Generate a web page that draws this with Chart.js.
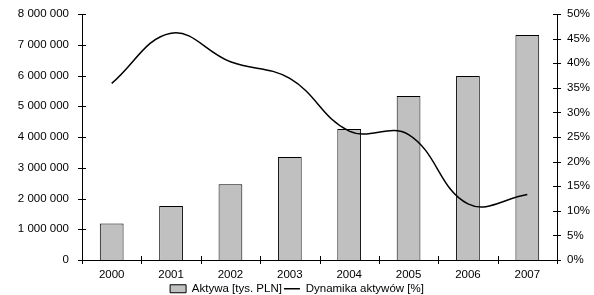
<!DOCTYPE html>
<html>
<head>
<meta charset="utf-8">
<script src="https://cdn.jsdelivr.net/npm/chart.js@4.4.0/dist/chart.umd.min.js"></script>
<style>
  html, body { margin: 0; padding: 0; background: #fff; }
  #wrap { width: 594px; height: 295px; }
</style>
</head>
<body>
<div id="wrap"><canvas id="chart" width="594" height="295"></canvas></div>
<script>
const years = ["2000", "2001", "2002", "2003", "2004", "2005", "2006", "2007"];
const aktywa = [1190000, 1760000, 2460000, 3350000, 4260000, 5330000, 5980000, 7320000];
const dynamika = [35.9, 46.1, 40.3, 36.9, 26.2, 25.5, 11.4, 13.3];
const leftMax = 8000000;
const leftStep = 1000000;
const rightMax = 50;
const rightStep = 5;

const FONT = { family: "'Liberation Sans', Arial, sans-serif", size: 11.5 };

function spaced(n) {
  return String(n).replace(/\B(?=(\d{3})+(?!\d))/g, " ");
}

// ticks that cross the axis lines, like the original
const crossTicks = {
  id: "crossTicks",
  afterDraw(chart) {
    const ctx = chart.ctx;
    const area = chart.chartArea;
    const { x, y, y2 } = chart.scales;
    ctx.save();
    ctx.strokeStyle = "#000";
    ctx.lineWidth = 1;
    ctx.beginPath();
    y.ticks.forEach((t, i) => {
      const p = Math.round(y.getPixelForTick(i)) + 0.5;
      ctx.moveTo(area.left - 4, p);
      ctx.lineTo(area.left + 4, p);
    });
    y2.ticks.forEach((t, i) => {
      const p = Math.round(y2.getPixelForTick(i)) + 0.5;
      ctx.moveTo(area.right - 4, p);
      ctx.lineTo(area.right + 4, p);
    });
    const half = (x.getPixelForTick(1) - x.getPixelForTick(0)) / 2;
    for (let i = 0; i <= years.length; i++) {
      const p = Math.round(x.getPixelForTick(0) - half + i * half * 2) + 0.5;
      ctx.moveTo(p, area.bottom - 4);
      ctx.lineTo(p, area.bottom + 4);
    }
    ctx.stroke();
    ctx.restore();
  }
};

function fixY(width) {
  return (s) => {
    s.width = width;
    s.paddingTop = 0;
    s.paddingBottom = 0;
  };
}

function mainEvent() {
  const ctx = document.getElementById("chart");

  new Chart(ctx, {
    data: {
      labels: years,
      datasets: [
        {
          type: "bar",
          label: "Aktywa [tys. PLN]",
          data: aktywa,
          yAxisID: "y",
          backgroundColor: "#c0c0c0",
          borderColor: "#000",
          borderWidth: 1,
          barPercentage: 0.4,
          categoryPercentage: 1,
          order: 1,
        },
        {
          type: "line",
          label: "Dynamika aktywów [%]",
          data: dynamika,
          yAxisID: "y2",
          borderColor: "#000",
          borderWidth: 1.5,
          pointRadius: 0,
          tension: 0.4,
          fill: false,
          order: 0,
        },
      ],
    },
    options: {
      responsive: false,
      animation: false,
      devicePixelRatio: 1,
      layout: { padding: { top: 14, left: 0, right: 0, bottom: 0 } },
      plugins: {
        tooltip: { enabled: false },
        legend: {
          position: "bottom",
          maxHeight: 14,
          labels: {
            color: "#000",
            font: FONT,
            usePointStyle: true,
            pointStyleWidth: 16,
            boxHeight: 8,
            padding: 2,
            sort: (a, b) => a.datasetIndex - b.datasetIndex,
            generateLabels: (chart) =>
              Chart.defaults.plugins.legend.labels.generateLabels(chart).map((l) => ({
                ...l,
                pointStyle: l.datasetIndex === 0 ? "rect" : "line",
                lineWidth: l.datasetIndex === 0 ? 1 : 1.5,
              })),
          },
        },
      },
      scales: {
        x: {
          grid: { display: false, drawTicks: false },
          border: { display: true, color: "#000" },
          ticks: { color: "#000", font: FONT, padding: 8, maxRotation: 0 },
          afterFit: (s) => { s.height = 21; },
        },
        y: {
          position: "left",
          min: 0,
          max: leftMax,
          grid: { display: false, drawTicks: false },
          border: { display: true, color: "#000" },
          ticks: {
            stepSize: leftStep,
            color: "#000",
            font: FONT,
            padding: 13,
            callback: (v) => spaced(v),
          },
          afterFit: fixY(82),
        },
        y2: {
          position: "right",
          min: 0,
          max: rightMax,
          grid: { display: false, drawTicks: false },
          border: { display: true, color: "#000" },
          ticks: {
            stepSize: rightStep,
            color: "#000",
            font: FONT,
            padding: 10,
            callback: (v) => v + "%",
          },
          afterFit: fixY(37),
        },
      },
    },
    plugins: [crossTicks],
  });
}
document.addEventListener("DOMContentLoaded", () => mainEvent());
</script>
</body>
</html>
